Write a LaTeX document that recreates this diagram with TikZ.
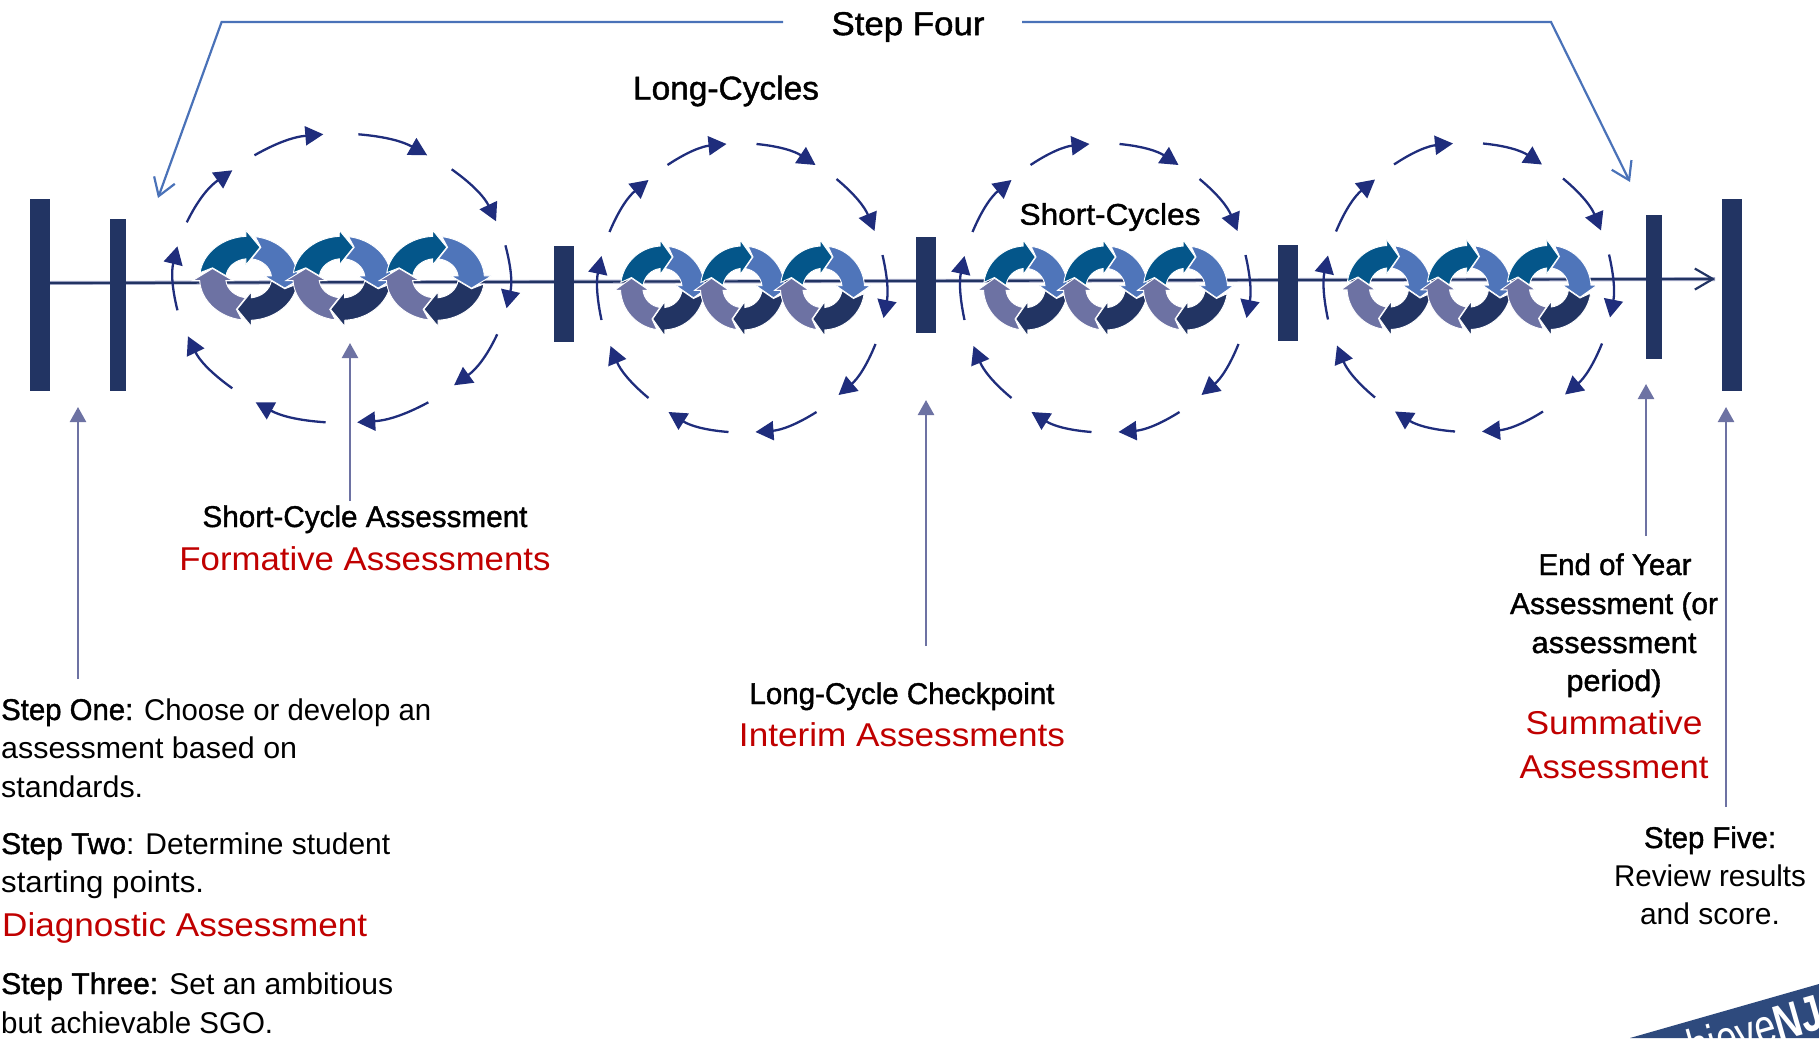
\documentclass[tikz,border=0pt]{standalone}
\usepackage{fontspec}
\usepackage{graphicx}
\setmainfont{Liberation Sans}
\newfontfamily\mfont[FakeBold=1.3]{Liberation Sans}
\usetikzlibrary{arrows.meta}
\definecolor{navybar}{HTML}{223463}
\definecolor{arcnavy}{HTML}{1F2D7C}
\definecolor{ringteal}{HTML}{04568A}
\definecolor{ringblue}{HTML}{4F75BA}
\definecolor{ringpurple}{HTML}{6D72A3}
\definecolor{halo}{HTML}{A9AECB}
\definecolor{stepblue}{HTML}{4A72B8}
\definecolor{redlabel}{HTML}{C00000}
\definecolor{logoblue}{HTML}{2E4A7D}
\newcommand\fit[2]{\resizebox{#1pt}{\height}{#2}}
\newcommand\mtext[1]{{\mfont #1}}
\tikzset{
  barbox/.style={fill=navybar,draw=none,inner sep=0pt,minimum width=#1pt},
  txt/.style={inner sep=0pt,text=black,font=\fontsize{30}{36}\selectfont},
  redtxt/.style={inner sep=0pt,text=redlabel,font=\fontsize{33}{40}\selectfont},
  arcarrow/.style={draw=arcnavy,line width=2.3pt,-{Triangle[length=18pt,width=19pt]}},
  callout/.style={draw=ringpurple,line width=2.4pt,-{Triangle[length=15pt,width=16pt]}},
  stepline/.style={draw=stepblue,line width=2.2pt,-{Straight Barb[length=17pt,width=22pt,line width=2.2pt]}}
}
\newcommand\ringat[1]{%
  \begin{scope}[shift={(#1,0)}]
    \foreach \ang/\col in {0/ringteal,-90/ringblue,-180/navybar,-270/ringpurple}{
      \path[fill=\col,draw=white,line width=0.9pt,rotate=\ang]
        (172.3:42) arc[start angle=172.3,end angle=93.2,radius=42]
        -- (-2.3,48) -- (9.8,31) -- (-2.3,13.5) -- (-2.3,19.5)
        arc[start angle=96.6,end angle=172.8,radius=19.5]
        -- (-31,10.5) -- cycle;
    }
  \end{scope}}
\newcommand\cyclegroup[3]{%
  \begin{scope}[shift={(#1,#2)},xscale=#3]
    \foreach \ax/\ay/\bx/\by/\bd in {
      -141/-32/-141/32/12,-133/56/-94/108/14,-75/123/-16/144/14,14/144/73/123/14,
      94/109/132/57/14,140/33/141/-30/12,133/-56/96/-107/14,74/-124/13/-144/14,
      -14/-144/-74/-124/14,-94/-110/-132/-58/14}{
      \draw[arcarrow] (\ax,\ay) to[bend left=\bd] (\bx,\by);
    }
    \ringat{-80}\ringat{0}\ringat{80}
  \end{scope}}
\begin{document}
\begin{tikzpicture}[x=1pt,y=1pt]
\useasboundingbox (0,0) rectangle (1819,-1038);
% timeline
\coordinate (lineS) at (50,-283);
\coordinate (lineE) at (1715,-279);
\draw[halo,line width=4pt] (lineS) -- (lineE);
\draw[navybar,line width=2.2pt,-{Straight Barb[length=18pt,width=21pt,line width=2.2pt]}] (lineS) -- (lineE);
% cycles
\cyclegroup{342}{-278.3}{1.167}
\cyclegroup{742.5}{-288}{1}
\cyclegroup{1105.5}{-288}{1}
\cyclegroup{1469}{-287.5}{1}
% bars
\node[barbox=20,minimum height=192pt] (bar1) at (40,-295) {};
\node[barbox=16,minimum height=172pt] (bar2) at (118,-305) {};
\node[barbox=20,minimum height=96pt] (bar3) at (564,-294) {};
\node[barbox=20,minimum height=96pt] (bar4) at (926,-285) {};
\node[barbox=20,minimum height=96pt] (bar5) at (1288,-293) {};
\node[barbox=16,minimum height=144pt] (bar6) at (1654,-287) {};
\node[barbox=20,minimum height=192pt] (bar7) at (1732,-295) {};
% titles
\node[txt,font=\fontsize{33}{40}\selectfont,anchor=center] (stepfour) at (908,-27) {\fit{153}{\mtext{Step Four}}};
\node[txt,font=\fontsize{33}{40}\selectfont,anchor=center] (longcycles) at (726,-91) {\fit{186}{\mtext{Long-Cycles}}};
\node[txt,anchor=center] (shortcycles) at (1110,-217) {\fit{181}{\mtext{Short-Cycles}}};
% step four connectors
\coordinate (sfL) at (783,-22);
\coordinate (sfLc) at (221.6,-22);
\coordinate (sfLt) at (158,-198);
\coordinate (sfR) at (1022,-22);
\coordinate (sfRc) at (1551,-22);
\coordinate (sfRt) at (1630,-182);
\draw[stepline] (sfL) -- (sfLc) -- (sfLt);
\draw[stepline] (sfR) -- (sfRc) -- (sfRt);
% labels
\node[txt,anchor=base] (sca) at (365,-527) {\fit{325}{\mtext{Short-Cycle Assessment}}};
\node[redtxt,anchor=base] (fa) at (365,-570) {\fit{371}{Formative Assessments}};
\node[txt,anchor=base] (lcc) at (902,-704) {\fit{305}{\mtext{Long-Cycle Checkpoint}}};
\node[redtxt,anchor=base] (ia) at (902,-746) {\fit{326}{Interim Assessments}};
\node[txt,anchor=base west] (s1a) at (1,-720) {\fit{430}{\mtext{Step One:} Choose or develop an}};
\node[txt,anchor=base west] (s1b) at (1,-758) {\fit{296}{assessment based on}};
\node[txt,anchor=base west] (s1c) at (1,-797) {\fit{142}{standards.}};
\node[txt,anchor=base west] (s2a) at (1,-854) {\fit{389}{\mtext{Step Two}: Determine student}};
\node[txt,anchor=base west] (s2b) at (1,-892) {\fit{203}{starting points.}};
\node[redtxt,anchor=base west] (da) at (2,-936) {\fit{365}{Diagnostic Assessment}};
\node[txt,anchor=base west] (s3a) at (1,-994) {\fit{392}{\mtext{Step Three:} Set an ambitious}};
\node[txt,anchor=base west] (s3b) at (1,-1033) {\fit{272}{but achievable SGO.}};
\node[txt,anchor=base] (ey1) at (1615,-575) {\fit{153}{\mtext{End of Year}}};
\node[txt,anchor=base] (ey2) at (1614,-614) {\fit{208}{\mtext{Assessment (or}}};
\node[txt,anchor=base] (ey3) at (1614,-653) {\fit{165}{\mtext{assessment}}};
\node[txt,anchor=base] (ey4) at (1614,-691) {\fit{95}{\mtext{period)}}};
\node[redtxt,anchor=base] (sum1) at (1614,-734) {\fit{177}{Summative}};
\node[redtxt,anchor=base] (sum2) at (1614,-778) {\fit{189}{Assessment}};
\node[txt,anchor=base] (s5a) at (1710,-848) {\fit{132}{\mtext{Step Five:}}};
\node[txt,anchor=base] (s5b) at (1710,-886) {\fit{192}{Review results}};
\node[txt,anchor=base] (s5c) at (1710,-924) {\fit{140}{and score.}};
% callouts
\coordinate (ca1) at (78,-679); \coordinate (ct1) at (78,-407);
\coordinate (ca2) at (350,-501); \coordinate (ct2) at (350,-343);
\coordinate (ca3) at (926,-646); \coordinate (ct3) at (926,-400);
\coordinate (ca4) at (1646,-536); \coordinate (ct4) at (1646,-384);
\coordinate (ca5) at (1726,-807); \coordinate (ct5) at (1726,-407);
\foreach \i in {1,...,5}{\draw[callout] (ca\i) -- (ct\i);}
% logo
\begin{scope}
  \clip (1630,-1038) -- (1819,-984) -- (1819,-1038) -- cycle;
  \fill[logoblue] (1630,-1038) -- (1819,-984) -- (1819,-1038) -- cycle;
  \node[inner sep=0pt,text=white,anchor=base east,rotate=15.9,font=\fontsize{50}{60}\selectfont] (logo) at (1826,-1028) {\scalebox{0.75}[1]{Achieve\textbf{NJ}}};
\end{scope}
\end{tikzpicture}
\end{document}
